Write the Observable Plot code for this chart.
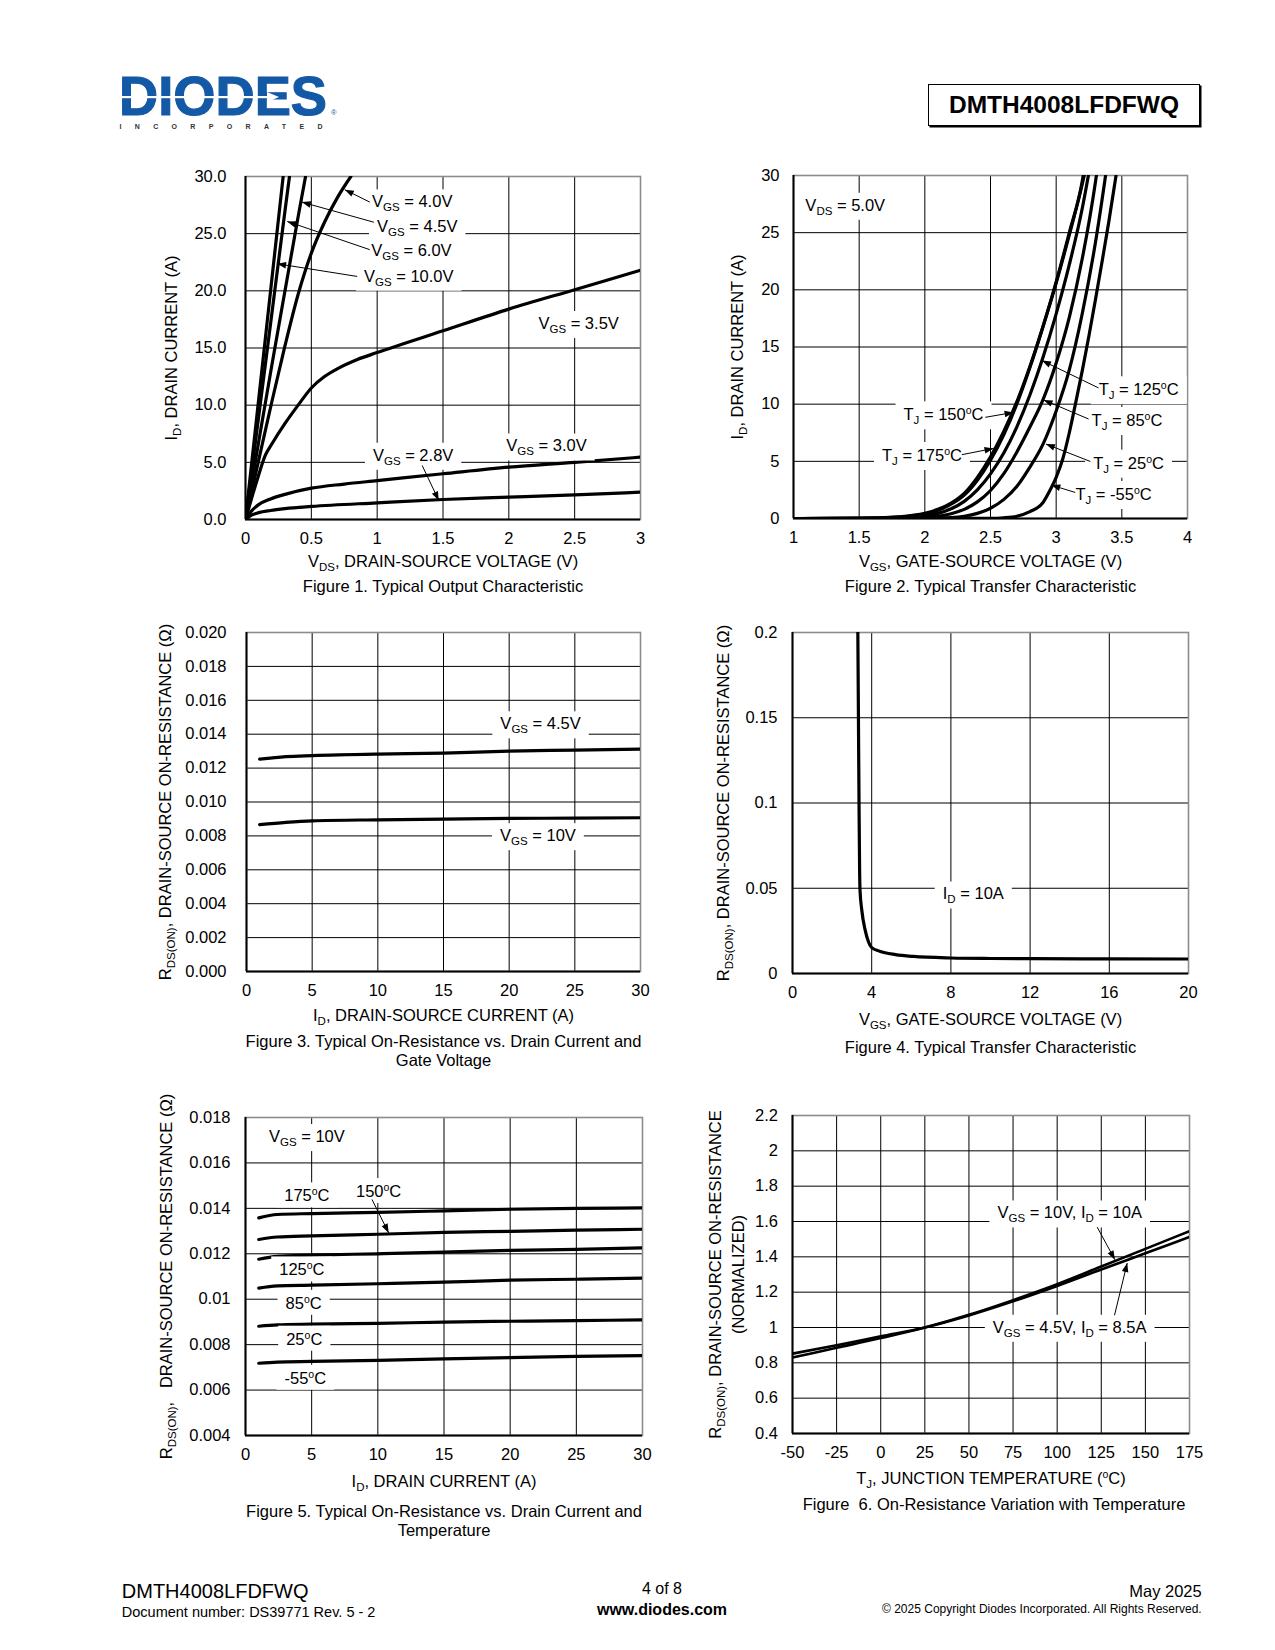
<!DOCTYPE html>
<html><head><meta charset="utf-8">
<script src="https://cdn.jsdelivr.net/npm/d3@7"></script>
<script src="https://cdn.jsdelivr.net/npm/@observablehq/plot@0.6"></script>
<style>
body{margin:0;background:#fff;}
#page{position:relative;width:1275px;height:1650px;overflow:hidden;font-family:'Liberation Sans',Arial,Helvetica,sans-serif;color:#000;background:#fff;}
.abs{position:absolute;white-space:nowrap;line-height:1.2;}
</style></head><body><div id="page"></div>
<script>
// ---------------- DATA ----------------
// Figure 1: ID vs VDS  [VDS (V), ID (A)]
const f1_vgs10 = [[0,0],[0.1,10.5],[0.2,21],[0.286,30]];
const f1_vgs6  = [[0,0],[0.1,9],[0.2,18],[0.3,27],[0.334,30]];
const f1_vgs45 = [[0,0],[0.1,6.8],[0.2,13.5],[0.3,20],[0.4,26.5],[0.456,30]];
const f1_vgs4  = [[0,0],[0.1,5.2],[0.2,10.3],[0.3,15.2],[0.4,19.7],[0.5,23.3],[0.6,26.0],[0.7,28.2],[0.8,30]];
const f1_vgs35 = [[0,0],[0.05,2.0],[0.1,3.9],[0.15,5.6],[0.2,6.6],[0.3,8.4],[0.4,10.0],[0.5,11.5],[0.6,12.5],[0.7,13.2],[0.85,14.0],[1.0,14.6],[1.5,16.5],[2.0,18.4],[2.5,20.1],[3.0,21.8]];
const f1_vgs30 = [[0,0],[0.05,0.8],[0.1,1.3],[0.19,1.8],[0.3,2.2],[0.5,2.74],[0.75,3.1],[1.0,3.4],[1.5,4.0],[2.0,4.58],[2.5,5.0],[3.0,5.45]];
const f1_vgs28 = [[0,0],[0.05,0.4],[0.1,0.6],[0.19,0.79],[0.3,0.95],[0.5,1.14],[1.0,1.46],[1.5,1.75],[2.0,1.95],[2.5,2.16],[3.0,2.39]];
const f1_xTicks = [0,0.5,1,1.5,2,2.5,3];
const f1_yTicks = [0,5,10,15,20,25,30];
const f1_labels = ["V_{GS} = 4.0V","V_{GS} = 4.5V","V_{GS} = 6.0V","V_{GS} = 10.0V","V_{GS} = 3.5V","V_{GS} = 3.0V","V_{GS} = 2.8V"];
const f1_labelX = [1.266,1.304,1.26,1.24,2.53,2.286,1.273];
const f1_labelY = [27.76,25.6,23.5,21.26,17.12,6.41,5.6];
const f1_arrowFrom = [[0.944,27.76],[0.975,26.0],[0.944,23.6],[0.848,21.26],[1.342,4.72]];
const f1_arrowTo   = [[0.754,28.85],[0.428,27.76],[0.317,26.07],[0.24,22.37],[1.468,1.66]];

// Figure 2: ID vs VGS [VGS (V), ID (A)]
const f2_t175 = [[1,0],[1.5,0.02],[1.8,0.15],[2.0,0.45],[2.1,0.8],[2.2,1.35],[2.3,2.2],[2.4,3.6],[2.5,5.4],[2.6,7.6],[2.7,10.2],[2.8,13.3],[2.9,16.8],[3.0,20.6],[3.1,24.8],[3.2,29.3],[3.22,30.3]];
const f2_t150 = [[1,0],[1.5,0.01],[1.8,0.12],[2.0,0.38],[2.1,0.72],[2.2,1.25],[2.3,2.05],[2.4,3.35],[2.5,5.1],[2.6,7.3],[2.7,10.0],[2.8,13.2],[2.9,16.8],[3.0,20.7],[3.1,25.0],[3.2,29.6],[3.21,30.3]];
const f2_t125 = [[1,0],[1.7,0.02],[1.9,0.1],[2.0,0.22],[2.1,0.45],[2.2,0.85],[2.3,1.5],[2.4,2.5],[2.5,3.9],[2.6,5.7],[2.7,8.0],[2.8,10.8],[2.9,14.1],[3.0,17.9],[3.1,22.2],[3.2,27.2],[3.25,30.3]];
const f2_t85  = [[1,0],[1.8,0.01],[2.0,0.08],[2.1,0.2],[2.2,0.42],[2.3,0.8],[2.4,1.45],[2.5,2.45],[2.6,3.9],[2.7,5.8],[2.8,8.0],[2.9,10.4],[3.0,13.6],[3.1,17.6],[3.2,22.8],[3.3,29.5],[3.31,30.3]];
const f2_t25  = [[1,0],[2.0,0.01],[2.2,0.08],[2.3,0.2],[2.4,0.45],[2.5,0.9],[2.6,1.65],[2.7,2.8],[2.8,4.5],[2.9,6.5],[3.0,9.4],[3.1,13.0],[3.2,18.0],[3.3,24.2],[3.37,29.5],[3.38,30.3]];
const f2_tm55 = [[1,0],[2.5,0.01],[2.6,0.06],[2.7,0.2],[2.8,0.6],[2.9,1.4],[2.95,2.4],[3.0,3.6],[3.05,5.2],[3.1,7.5],[3.15,10.2],[3.2,13.0],[3.25,16.0],[3.3,19.2],[3.35,22.5],[3.4,25.9],[3.46,30.3]];
const f2_xTicks = [1,1.5,2,2.5,3,3.5,4];
const f2_yTicks = [0,5,10,15,20,25,30];
const f2_labels = ["V_{DS} = 5.0V","T_{J} = 125^{o}C","T_{J} = 85^{o}C","T_{J} = 25^{o}C","T_{J} = -55^{o}C","T_{J} = 150^{o}C","T_{J} = 175^{o}C"];
const f2_labelX = [1.394,3.628,3.539,3.551,3.437,2.142,1.978];
const f2_labelY = [27.38,11.24,8.55,4.82,2.08,9.05,5.49];
const f2_arrowFrom = [[3.323,11.42],[3.247,8.7],[3.26,4.99],[3.145,2.28],[2.46,8.85],[2.282,5.58]];
const f2_arrowTo   = [[2.892,13.81],[2.904,10.37],[2.922,6.51],[2.963,2.92],[2.676,9.28],[2.523,6.13]];

// Figure 3: RDS(ON) vs ID [ID (A), R (ohm)]
const f3_vgs45 = [[1,0.01253],[3,0.01268],[5,0.01274],[10,0.01283],[15,0.01288],[20,0.0130],[25,0.01306],[30,0.01312]];
const f3_vgs10 = [[1,0.00866],[3,0.0088],[5,0.00889],[10,0.00895],[15,0.00899],[20,0.00903],[25,0.00905],[30,0.00907]];
const f3_xTicks = [0,5,10,15,20,25,30];
const f3_yTicks = [0,0.002,0.004,0.006,0.008,0.010,0.012,0.014,0.016,0.018,0.020];
const f3_labels = ["V_{GS} = 4.5V","V_{GS} = 10V"];
const f3_labelX = [22.39,22.19];
const f3_labelY = [0.0146,0.0080];

// Figure 4: RDS(ON) vs VGS [VGS (V), R (ohm)]
const f4_id10 = [[3.30,0.2],[3.33,0.15],[3.36,0.1],[3.39,0.06],[3.41,0.0488],[3.5,0.0371],[3.67,0.0254],[3.84,0.0185],[4.0,0.0152],[4.4,0.0131],[5.2,0.0111],[6.1,0.0100],[8,0.0091],[10,0.0088],[12,0.0087],[16,0.0086],[20,0.0085]];
const f4_xTicks = [0,4,8,12,16,20];
const f4_yTicks = [0,0.05,0.1,0.15,0.2];
const f4_labels = ["I_{D} = 10A"];
const f4_labelX = [9.13];
const f4_labelY = [0.0465];

// Figure 5: RDS(ON) vs ID and temperature [ID (A), R (ohm)]
const f5_t175 = [[1,0.01358],[2.4,0.01373],[5,0.01377],[10,0.01382],[15,0.01389],[20,0.01396],[25,0.0140],[30,0.01402]];
const f5_t150 = [[1,0.01263],[2.4,0.01274],[5,0.01279],[10,0.01286],[15,0.01294],[20,0.01299],[25,0.01304],[30,0.01308]];
const f5_t125 = [[1,0.01176],[2.4,0.01189],[5,0.01194],[10,0.012],[15,0.01207],[20,0.01215],[25,0.01219],[30,0.01226]];
const f5_t85  = [[1,0.01049],[2.4,0.01059],[5,0.01062],[10,0.01068],[15,0.01075],[20,0.01084],[25,0.01088],[30,0.01093]];
const f5_t25  = [[1,0.00881],[2.4,0.00887],[5,0.0089],[10,0.00894],[15,0.00899],[20,0.00903],[25,0.00906],[30,0.00909]];
const f5_tm55 = [[1,0.00718],[2.4,0.00723],[5,0.00726],[10,0.00731],[15,0.00737],[20,0.00743],[25,0.00748],[30,0.00752]];
const f5_xTicks = [0,5,10,15,20,25,30];
const f5_yTicks = [0.004,0.006,0.008,0.01,0.012,0.014,0.016,0.018];
const f5_labels = ["V_{GS} = 10V","175^{o}C","150^{o}C","125^{o}C","85^{o}C","25^{o}C","-55^{o}C"];
const f5_labelX = [4.64,4.64,10.06,4.26,4.39,4.44,4.52];
const f5_labelY = [0.01715,0.01454,0.01473,0.01128,0.00981,0.00823,0.00651];
const f5_arrowFrom = [[9.56,0.01439]];
const f5_arrowTo   = [[10.82,0.01292]];

// Figure 6: normalized RDS(ON) vs TJ [TJ (C), normalized]
const f6_vgs10 = [[-50,0.83],[-25,0.885],[0,0.94],[25,1.0],[50,1.072],[75,1.155],[100,1.245],[125,1.345],[150,1.445],[175,1.545]];
const f6_vgs45 = [[-50,0.852],[-25,0.9],[0,0.95],[25,1.0],[50,1.068],[75,1.148],[100,1.235],[125,1.328],[150,1.42],[175,1.512]];
const f6_xTicks = [-50,-25,0,25,50,75,100,125,150,175];
const f6_yTicks = [0.4,0.6,0.8,1,1.2,1.4,1.6,1.8,2,2.2];
const f6_labels = ["V_{GS} = 10V, I_{D} = 10A","V_{GS} = 4.5V, I_{D} = 8.5A"];
const f6_labelX = [107.1,107.1];
const f6_labelY = [1.647,1.0];
const f6_arrowFrom = [[122.7,1.568],[132.5,1.069]];
const f6_arrowTo   = [[132.7,1.384],[139.7,1.365]];

// ---------------- RENDER ----------------
const FONT = "'Liberation Sans', Arial, Helvetica, sans-serif";
const NS = "http://www.w3.org/2000/svg";
const page = document.getElementById("page");

function richText(svg) {
  const proc = (el) => {
    const s = el.textContent;
    if (!/[_^]\{/.test(s)) return;
    while (el.firstChild) el.removeChild(el.firstChild);
    let cur = 0, last = 0, m;
    const re = /([_^])\{([^}]*)\}/g;
    const add = (txt, off, size) => {
      if (!txt) return;
      const ts = document.createElementNS(NS, "tspan");
      ts.textContent = txt;
      if (off !== cur) ts.setAttribute("dy", off - cur);
      cur = off;
      if (size) ts.setAttribute("font-size", size);
      el.appendChild(ts);
    };
    while ((m = re.exec(s))) {
      add(s.slice(last, m.index), 0);
      if (m[1] === "_") add(m[2], 4, "11.5px"); else add(m[2], -6, "10.5px");
      last = re.lastIndex;
    }
    add(s.slice(last), 0);
  };
  svg.querySelectorAll("text").forEach(t => {
    const spans = t.querySelectorAll(":scope > tspan");
    if (spans.length) spans.forEach(proc); else proc(t);
  });
}
function boxAnnos(svg) {
  const texts = [];
  svg.querySelectorAll('[aria-label="anno"]').forEach(el => {
    if (el.tagName.toLowerCase() === "text") texts.push(el);
    else el.querySelectorAll("text").forEach(t => texts.push(t));
  });
  texts.forEach(t => {
    const b = t.getBBox();
    const r = document.createElementNS(NS, "rect");
    r.setAttribute("x", b.x - 8); r.setAttribute("y", b.y - 3);
    r.setAttribute("width", b.width + 16); r.setAttribute("height", b.height + 6);
    r.setAttribute("fill", "white"); r.setAttribute("stroke", "none");
    const tr = t.getAttribute("transform"); if (tr) r.setAttribute("transform", tr);
    t.parentNode.insertBefore(r, t);
  });
}
function fixMarkers(svg) {
  svg.querySelectorAll("marker").forEach(m => {
    m.setAttribute("viewBox", "-10 -5 11 10");
    m.setAttribute("markerWidth", "11"); m.setAttribute("markerHeight", "10");
    m.setAttribute("markerUnits", "userSpaceOnUse");
    m.setAttribute("refX", "0"); m.setAttribute("refY", "0");
    while (m.firstChild) m.removeChild(m.firstChild);
    const p = document.createElementNS(NS, "path");
    p.setAttribute("d", "M-9,-3.3L0,0L-9,3.3Z");
    p.setAttribute("fill", "black"); p.setAttribute("stroke", "none");
    m.appendChild(p);
  });
}

function drawChart(cfg) {
  const {L, T, R, B} = cfg.frame;
  const mL = 110, mR = 30, mT = 20, mB = 120;
  const width = R - L + mL + mR, height = B - T + mT + mB;
  const annos = cfg.labels.map((t, i) => ({t, x: cfg.labelX[i], y: cfg.labelY[i]}));
  const arrows = (cfg.arrowFrom || []).map((f, i) => ({x1: f[0], y1: f[1], x2: cfg.arrowTo[i][0], y2: cfg.arrowTo[i][1]}));
  const x0 = cfg.xTicks[0], y0 = cfg.yTicks[0];
  const yLabels = cfg.yLabels;
  const lab = {fill: "black", textAnchor: "middle", lineAnchor: "middle"};
  const marks = [
    Plot.ruleX(cfg.xTicks.slice(1, -1), {stroke: "black", strokeWidth: 1}),
    Plot.ruleY(cfg.yTicks.slice(1, -1), {stroke: "black", strokeWidth: 1}),
    Plot.frame({stroke: "#8c8c8c", strokeWidth: 1.6}),
    Plot.ruleX([x0], {stroke: "black", strokeWidth: 2}),
    Plot.ruleY([y0], {stroke: "black", strokeWidth: 2}),
    ...cfg.series.map(s => Plot.line(s, {x: d => d[0], y: d => d[1], stroke: "black", strokeWidth: cfg.lw || 3.2, curve: "monotone-x", clip: true})),
    Plot.text(annos, {x: "x", y: "y", text: "t", ariaLabel: () => "anno", ...lab}),
    Plot.link(arrows, {x1: "x1", y1: "y1", x2: "x2", y2: "y2", stroke: "black", strokeWidth: 1, markerEnd: "arrow"}),
    Plot.text([cfg.xLabel], {frameAnchor: "bottom", dy: cfg.xLabelDy, ...lab}),
    ...yLabels.map((l, i) => Plot.text([l], {frameAnchor: "left", rotate: -90, dx: cfg.yLabelDx[i], ...lab})),
    Plot.text([cfg.caption], {frameAnchor: "bottom", dy: cfg.captionDy, dx: cfg.captionDx || 0, lineHeight: 1.15, ...lab})
  ];
  const svg = Plot.plot({
    width, height, marginLeft: mL, marginRight: mR, marginTop: mT, marginBottom: mB,
    style: {fontFamily: FONT, fontSize: "16.5px", color: "black", background: "transparent", overflow: "visible", maxWidth: "none"},
    x: {domain: [x0, cfg.xTicks[cfg.xTicks.length - 1]], ticks: cfg.xTicks, tickFormat: cfg.xFormat || (d => String(d)), tickSize: 0, tickPadding: 13, label: null},
    y: {domain: [y0, cfg.yTicks[cfg.yTicks.length - 1]], ticks: cfg.yTicks, tickFormat: cfg.yFormat || (d => String(d)), tickSize: 0, tickPadding: cfg.yPad, label: null},
    marks
  });
  svg.style.position = "absolute";
  svg.style.left = (L - mL) + "px";
  svg.style.top = (T - mT) + "px";
  page.appendChild(svg);
  richText(svg);
  boxAnnos(svg);
  fixMarkers(svg);
}

const RDS = "R_{DS(ON)}, DRAIN-SOURCE ON-RESISTANCE (\u03A9)";

drawChart({frame: {L: 245, T: 176, R: 640, B: 519},
  series: [f1_vgs10, f1_vgs6, f1_vgs45, f1_vgs4, f1_vgs35, f1_vgs30, f1_vgs28],
  xTicks: f1_xTicks, yTicks: f1_yTicks, yFormat: d3.format(".1f"), yPad: 19,
  labels: f1_labels, labelX: f1_labelX, labelY: f1_labelY, arrowFrom: f1_arrowFrom, arrowTo: f1_arrowTo,
  xLabel: "V_{DS}, DRAIN-SOURCE VOLTAGE (V)", xLabelDy: 42.5,
  yLabels: ["I_{D}, DRAIN CURRENT (A)"], yLabelDx: [-74],
  caption: "Figure 1. Typical Output Characteristic", captionDy: 66});

drawChart({frame: {L: 793, T: 175, R: 1187, B: 518},
  series: [f2_t175, f2_t150, f2_t125, f2_t85, f2_t25, f2_tm55],
  xTicks: f2_xTicks, yTicks: f2_yTicks, yPad: 14,
  labels: f2_labels, labelX: f2_labelX, labelY: f2_labelY, arrowFrom: f2_arrowFrom, arrowTo: f2_arrowTo,
  xLabel: "V_{GS}, GATE-SOURCE VOLTAGE (V)", xLabelDy: 43,
  yLabels: ["I_{D}, DRAIN CURRENT (A)"], yLabelDx: [-56],
  caption: "Figure 2. Typical Transfer Characteristic", captionDy: 67});

drawChart({frame: {L: 246, T: 632, R: 640, B: 971},
  series: [f3_vgs45, f3_vgs10],
  xTicks: f3_xTicks, yTicks: f3_yTicks, yFormat: d3.format(".3f"), yPad: 20,
  labels: f3_labels, labelX: f3_labelX, labelY: f3_labelY,
  xLabel: "I_{D}, DRAIN-SOURCE CURRENT (A)", xLabelDy: 44,
  yLabels: [RDS], yLabelDx: [-81],
  caption: "Figure 3. Typical On-Resistance vs. Drain Current and\nGate Voltage", captionDy: 79});

drawChart({frame: {L: 792, T: 632, R: 1188, B: 973},
  series: [f4_id10],
  xTicks: f4_xTicks, yTicks: f4_yTicks, yPad: 15,
  labels: f4_labels, labelX: f4_labelX, labelY: f4_labelY,
  xLabel: "V_{GS}, GATE-SOURCE VOLTAGE (V)", xLabelDy: 46.5,
  yLabels: [RDS], yLabelDx: [-69],
  caption: "Figure 4. Typical Transfer Characteristic", captionDy: 73.5});

drawChart({frame: {L: 245, T: 1117, R: 642, B: 1435},
  series: [f5_t175, f5_t150, f5_t125, f5_t85, f5_t25, f5_tm55],
  xTicks: f5_xTicks, yTicks: f5_yTicks, yPad: 15,
  labels: f5_labels, labelX: f5_labelX, labelY: f5_labelY, arrowFrom: f5_arrowFrom, arrowTo: f5_arrowTo,
  xLabel: "I_{D}, DRAIN CURRENT (A)", xLabelDy: 46,
  yLabels: ["R_{DS(ON)},\u00a0\u00a0 DRAIN-SOURCE ON-RESISTANCE (\u03A9)"], yLabelDx: [-79],
  caption: "Figure 5. Typical On-Resistance vs. Drain Current and\nTemperature", captionDy: 84.5});

drawChart({frame: {L: 792, T: 1115, R: 1189, B: 1433}, lw: 2.6,
  series: [f6_vgs10, f6_vgs45],
  xTicks: f6_xTicks, yTicks: f6_yTicks, yPad: 14.5,
  labels: f6_labels, labelX: f6_labelX, labelY: f6_labelY, arrowFrom: f6_arrowFrom, arrowTo: f6_arrowTo,
  xLabel: "T_{J}, JUNCTION TEMPERATURE (^{o}C)", xLabelDy: 45,
  yLabels: ["R_{DS(ON)}, DRAIN-SOURCE ON-RESISTANCE", "(NORMALIZED)"], yLabelDx: [-77, -54],
  caption: "Figure\u00a0 6. On-Resistance Variation with Temperature", captionDy: 70.5, captionDx: 3});

// ---------------- HEADER / FOOTER ----------------
function place(html, {x, cy, size, weight, align, color}) {
  const d = document.createElement("div");
  d.className = "abs";
  d.innerHTML = html;
  d.style.fontSize = size + "px";
  d.style.top = (cy - size * 0.6) + "px";
  if (weight) d.style.fontWeight = weight;
  if (color) d.style.color = color;
  if (align === "right") { d.style.right = (1275 - x) + "px"; }
  else if (align === "center") { d.style.left = x + "px"; d.style.transform = "translateX(-50%)"; }
  else d.style.left = x + "px";
  page.appendChild(d);
}
// Logo
const logo = document.createElement("div");
logo.className = "abs";
logo.style.left = "119px"; logo.style.top = "70px";
logo.innerHTML = `<svg width="240" height="64" xmlns="${NS}" style="overflow:visible">
  <text x="0" y="44.8" font-family="${FONT}" font-weight="900" font-size="56" fill="#1459a6" stroke="#1459a6" stroke-width="1.2" textLength="208" lengthAdjust="spacingAndGlyphs">DIODES</text>
  <rect x="0" y="26" width="150" height="2.2" fill="white"/>
  <path d="M148,22 L160,27.1 L148,32.2 Z" fill="white"/>
  <text x="212" y="45" font-family="${FONT}" font-size="7.5" fill="#1459a6">\u00AE</text>
  <text x="0.5" y="59" font-family="${FONT}" font-weight="700" font-size="7" fill="#333" textLength="203" lengthAdjust="spacing">INCORPORATED</text>
</svg>`;
page.appendChild(logo);
// Part number box
const box = document.createElement("div");
box.className = "abs";
Object.assign(box.style, {left: "928px", top: "84px", width: "272px", height: "42px", boxSizing: "border-box",
  border: "1.5px solid #000", boxShadow: "1.5px 1.5px 0 0 #000", fontWeight: "700", fontSize: "24.5px",
  textAlign: "center", lineHeight: "39px"});
box.textContent = "DMTH4008LFDFWQ";
page.appendChild(box);
// Footer
place("DMTH4008LFDFWQ", {x: 121.8, cy: 1591, size: 20});
place("Document number: DS39771 Rev. 5 - 2", {x: 121.8, cy: 1613, size: 14.5});
place("4 of 8", {x: 662, cy: 1589, size: 16, align: "center"});
place("www.diodes.com", {x: 662, cy: 1610, size: 16, weight: 700, align: "center"});
place("May 2025", {x: 1201.7, cy: 1592, size: 16.5, align: "right"});
place("\u00A9 2025 Copyright Diodes Incorporated. All Rights Reserved.", {x: 1201.7, cy: 1609, size: 12, align: "right"});
</script></body></html>
